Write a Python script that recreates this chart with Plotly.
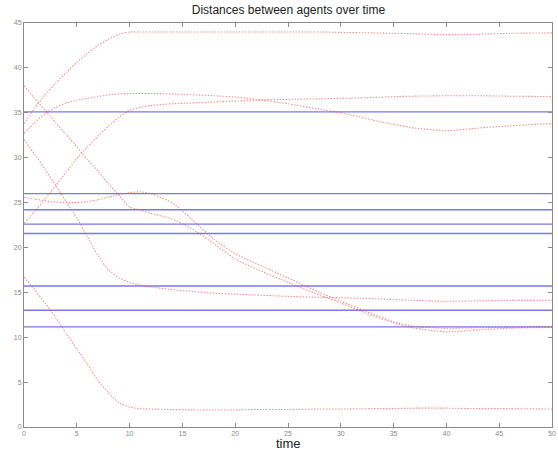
import plotly.graph_objects as go

# time samples
t = [0, 1, 2, 3, 4, 5, 6, 7, 8, 9, 10, 11, 12, 14, 16, 18, 20, 22, 25, 28, 30, 33, 35, 37, 40, 43, 46, 50]

# red dotted curves: distances between agents over time
dist_a = [32.7, 33.9, 34.9, 35.6, 36.1, 36.4, 36.6, 36.8, 37.0, 37.1, 37.15, 37.15, 37.15, 37.1, 37.0, 36.9, 36.75, 36.5, 36.0, 35.4, 35.0, 34.2, 33.7, 33.3, 33.0, 33.3, 33.55, 33.8]
dist_b = [22.7, 24.0, 25.4, 26.9, 28.4, 29.9, 31.2, 32.4, 33.5, 34.5, 35.3, 35.6, 35.8, 36.0, 36.1, 36.2, 36.3, 36.4, 36.5, 36.55, 36.6, 36.7, 36.8, 36.85, 36.9, 36.9, 36.85, 36.8]
dist_c = [33.8, 35.5, 37.0, 38.3, 39.5, 40.6, 41.6, 42.5, 43.2, 43.75, 44.0, 44.0, 44.0, 44.0, 44.0, 44.0, 44.0, 44.0, 44.0, 44.0, 43.95, 43.9, 43.85, 43.8, 43.7, 43.75, 43.85, 43.9]
dist_d = [38.0, 36.6, 35.3, 33.9, 32.6, 31.2, 29.8, 28.5, 27.1, 25.8, 24.5, 24.2, 23.8, 23.2, 22.0, 20.4, 18.7, 17.6, 16.1, 14.7, 13.8, 12.4, 11.6, 11.0, 10.6, 10.8, 11.0, 11.1]
dist_e = [32.0, 30.4, 28.7, 26.9, 25.1, 23.3, 21.2, 19.1, 17.5, 16.6, 16.1, 15.8, 15.6, 15.3, 15.1, 14.9, 14.8, 14.7, 14.55, 14.45, 14.4, 14.3, 14.2, 14.1, 14.0, 14.05, 14.1, 14.1]
dist_f = [25.6, 25.4, 25.2, 25.05, 25.0, 25.0, 25.1, 25.3, 25.6, 25.9, 26.1, 26.2, 26.0, 25.0, 23.0, 20.9, 19.3, 18.2, 16.6, 15.0, 14.0, 12.6, 11.7, 11.2, 11.0, 11.05, 11.1, 11.2]
dist_g = [16.7, 15.3, 13.8, 12.2, 10.4, 8.7, 7.0, 5.2, 3.8, 2.7, 2.2, 2.05, 2.0, 1.95, 1.9, 1.9, 1.9, 1.95, 1.95, 2.0, 2.0, 2.05, 2.05, 2.1, 2.1, 2.05, 2.05, 2.0]
red_series = [dist_a, dist_b, dist_c, dist_d, dist_e, dist_f, dist_g]

# blue constant reference distances
blue_levels = [35.1, 26.0, 24.2, 22.6, 21.55, 15.7, 13.0, 11.15]
blue_t = [0, 50]

x_ticks = [0, 5, 10, 15, 20, 25, 30, 35, 40, 45, 50]
y_ticks = [0, 5, 10, 15, 20, 25, 30, 35, 40, 45]

fig = go.Figure()
for lvl in blue_levels:
    fig.add_trace(go.Scatter(x=blue_t, y=[lvl, lvl], mode="lines",
                             line=dict(color="rgb(120,120,232)", width=1.4),
                             showlegend=False, hoverinfo="skip"))
for s in red_series:
    fig.add_trace(go.Scatter(x=t, y=s, mode="lines",
                             line=dict(color="rgba(240,70,70,0.6)", width=1.1,
                                       dash="1.5px,1.5px", shape="spline", smoothing=0.5),
                             showlegend=False, hoverinfo="skip"))

axis_common = dict(showgrid=False, zeroline=False, showline=True, linecolor="#8a8a8a",
                   linewidth=1, mirror="ticks", ticks="inside", ticklen=4, automargin=False,
                   tickcolor="#8a8a8a", tickfont=dict(size=7, color="#888888",
                                                      family="Liberation Sans, Arial"))
fig.update_xaxes(range=[0, 50], tickvals=x_ticks, **axis_common)
fig.update_yaxes(range=[0, 45], tickvals=y_ticks, **axis_common)

fig.add_annotation(text="time", xref="paper", yref="paper", x=0.5, y=0,
                   xanchor="center", yanchor="top", yshift=-7, showarrow=False,
                   font=dict(size=13, color="#222222", family="Liberation Sans, Arial"))

fig.update_layout(
    width=558, height=451,
    margin=dict(l=24, r=6, t=23, b=24),
    paper_bgcolor="white", plot_bgcolor="white",
    title=dict(text="Distances between agents over time", x=0.517, xanchor="center",
               y=0.988, yanchor="top",
               font=dict(size=12, color="#222222", family="Liberation Sans, Arial")),
)
fig.write_html("out.html")
